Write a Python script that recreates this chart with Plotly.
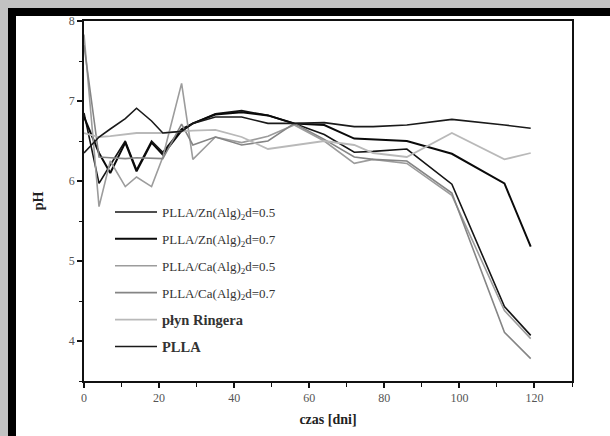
import plotly.graph_objects as go

days = [0, 4, 7, 11, 14, 18, 21, 26, 29, 35, 42, 49, 56, 64, 72, 77, 86, 98, 112, 119]

zn_05 = [6.85, 5.97, 6.20, 6.50, 6.14, 6.50, 6.36, 6.65, 6.72, 6.84, 6.88, 6.82, 6.72, 6.58, 6.36, 6.37, 6.40, 5.96, 4.43, 4.07]
zn_07 = [6.80, 6.35, 6.10, 6.48, 6.12, 6.48, 6.33, 6.63, 6.72, 6.83, 6.86, 6.82, 6.72, 6.70, 6.53, 6.52, 6.50, 6.34, 5.97, 5.18]
ca_05 = [7.83, 5.68, 6.25, 5.93, 6.05, 5.93, 6.30, 7.22, 6.27, 6.55, 6.48, 6.56, 6.70, 6.50, 6.22, 6.27, 6.22, 5.82, 4.38, 4.03]
ca_07 = [7.70, 6.30, 6.29, 6.28, 6.29, 6.28, 6.28, 6.71, 6.45, 6.55, 6.45, 6.50, 6.72, 6.52, 6.30, 6.27, 6.25, 5.85, 4.11, 3.78]
ringer = [6.60, 6.55, 6.56, 6.58, 6.60, 6.60, 6.60, 6.62, 6.63, 6.64, 6.55, 6.40, 6.45, 6.50, 6.45, 6.35, 6.30, 6.60, 6.27, 6.35]
plla = [6.35, 6.55, 6.65, 6.78, 6.91, 6.75, 6.60, 6.62, 6.72, 6.80, 6.80, 6.72, 6.72, 6.73, 6.68, 6.68, 6.70, 6.77, 6.70, 6.66]

names = [
    "PLLA/Zn(Alg)<sub>2</sub>d=0.5",
    "PLLA/Zn(Alg)<sub>2</sub>d=0.7",
    "PLLA/Ca(Alg)<sub>2</sub>d=0.5",
    "PLLA/Ca(Alg)<sub>2</sub>d=0.7",
    "<span style='font-size:14.5px'><b>płyn Ringera</b></span>",
    "<span style='font-size:14.5px'><b>PLLA</b></span>",
]
series = [zn_05, zn_07, ca_05, ca_07, ringer, plla]
colors = ["#151515", "#0a0a0a", "#9c9c9c", "#858585", "#b9b9b9", "#1a1a1a"]
widths = [1.6, 2.0, 1.6, 1.6, 1.8, 1.6]

fig = go.Figure()
for i, (nm, ys, c, w) in enumerate(zip(names, series, colors, widths)):
    fig.add_trace(go.Scatter(x=days, y=ys, mode="lines", name=nm,
                             legendgroup=f"g{i}",
                             line=dict(color=c, width=w)))

serif = "Liberation Serif"
W, H = 610, 436
L, R, T, B = 84, 38, 21, 55
pw, ph = W - L - R, H - T - B

def px(x):
    return (x - L) / pw

def py(y):
    return 1 - (y - T) / ph

shapes = [
    dict(type="rect", xref="paper", yref="paper", x0=px(0), x1=px(W), y0=py(0), y1=py(8),
         fillcolor="#c2c2c2", line_width=0, layer="below"),
    dict(type="rect", xref="paper", yref="paper", x0=px(0), x1=px(8), y0=py(0), y1=py(H),
         fillcolor="#c2c2c2", line_width=0, layer="below"),
    dict(type="rect", xref="paper", yref="paper", x0=px(8), x1=px(W), y0=py(8), y1=py(16),
         fillcolor="#000000", line_width=0, layer="below"),
    dict(type="rect", xref="paper", yref="paper", x0=px(8), x1=px(16), y0=py(8), y1=py(H),
         fillcolor="#000000", line_width=0, layer="below"),
]

fig.update_layout(
    width=W, height=H,
    margin=dict(l=L, r=R, t=T, b=B, autoexpand=False),
    paper_bgcolor="white", plot_bgcolor="white",
    shapes=shapes,
    showlegend=True,
    legend=dict(x=px(110), y=py(197), xanchor="left", yanchor="top",
                bgcolor="rgba(0,0,0,0)", tracegroupgap=7, itemwidth=42,
                font=dict(family=serif, size=13, color="#333333")),
    xaxis=dict(range=[0, 130], dtick=20, tick0=0, showgrid=False, zeroline=False,
               showline=True, linecolor="#111111", linewidth=1.5, mirror=True,
               ticks="outside", ticklen=5, tickwidth=1.5, tickcolor="#111111",
               minor=dict(dtick=10, ticks="outside", ticklen=4, tickwidth=1.2, tickcolor="#111111"),
               tickfont=dict(family=serif, size=12, color="#555555"),
               title=dict(text="<b>czas [dni]</b>", standoff=10,
                          font=dict(family=serif, size=14, color="#222222"))),
    yaxis=dict(range=[3.5, 8], dtick=1, tick0=4, showgrid=False, zeroline=False,
               showline=True, linecolor="#111111", linewidth=1.5, mirror=True,
               ticks="outside", ticklen=5, tickwidth=1.5, tickcolor="#111111",
               minor=dict(dtick=0.5, ticks="outside", ticklen=3, tickwidth=1.2, tickcolor="#111111"),
               tickfont=dict(family=serif, size=12, color="#555555"),
               title=dict(text="<b>pH</b>", standoff=22,
                          font=dict(family=serif, size=14, color="#222222"))),
)

fig.write_html("out.html", config={"displayModeBar": False},
               post_script="document.body.style.margin='0px';document.body.style.overflow='hidden';")
